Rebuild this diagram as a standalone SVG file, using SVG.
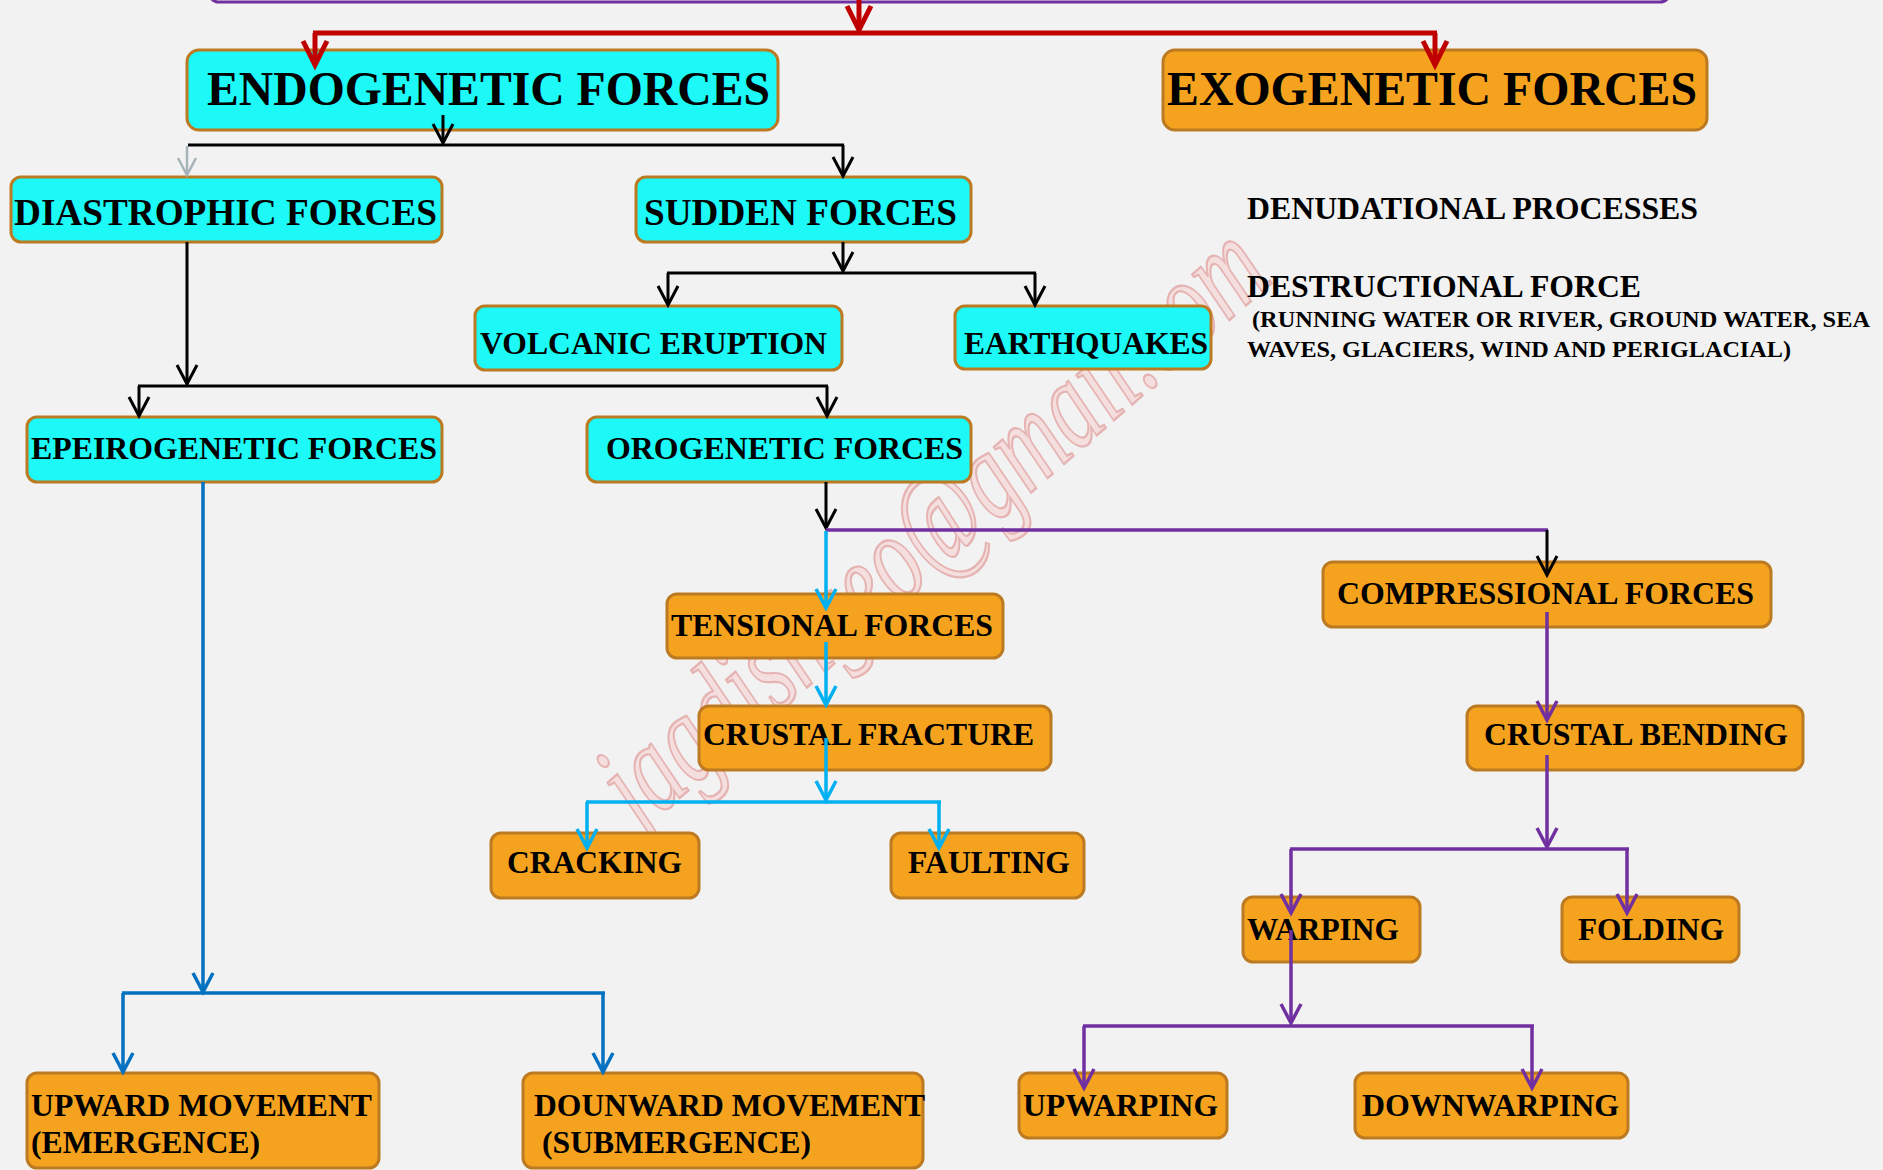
<svg xmlns="http://www.w3.org/2000/svg" width="1883" height="1170" viewBox="0 0 1883 1170">
<style>
.bg{fill:#F2F2F2}
.cy{fill:#1CF9F7;stroke:#BC7A22;stroke-width:3}
.or{fill:#F5A31F;stroke:#BC7A22;stroke-width:3}
.t{font-family:"Liberation Serif","Times New Roman",serif;font-weight:bold;fill:#000}
.wm{font-family:"Liberation Serif","DejaVu Serif",serif;font-style:italic;font-size:128px;fill:#F4DEDE;stroke:#E6B3B3;stroke-width:2.4}
.c{fill:none;stroke-linecap:butt;stroke-linejoin:miter}
.red{stroke:#C00000;stroke-width:5}
.blk{stroke:#000;stroke-width:3}
.gry{stroke:#A6B4BA;stroke-width:2.5}
.cya{stroke:#00B0F0;stroke-width:3.5}
.pur{stroke:#7030A0;stroke-width:3.5}
.blu{stroke:#0070C0;stroke-width:3.5}
</style>
<defs>
<marker id="mr" markerUnits="userSpaceOnUse" markerWidth="40" markerHeight="40" viewBox="-30 -20 40 40" refX="0" refY="0" orient="auto" overflow="visible"><path d="M-24,-12 L0,0 L-24,12" fill="none" stroke="#C00000" stroke-width="5"/></marker>
<marker id="mb" markerUnits="userSpaceOnUse" markerWidth="40" markerHeight="40" viewBox="-30 -20 40 40" refX="0" refY="0" orient="auto" overflow="visible"><path d="M-19,-10 L0,0 L-19,10" fill="none" stroke="#000" stroke-width="3"/></marker>
<marker id="mg" markerUnits="userSpaceOnUse" markerWidth="40" markerHeight="40" viewBox="-30 -20 40 40" refX="0" refY="0" orient="auto" overflow="visible"><path d="M-17,-9 L0,0 L-17,9" fill="none" stroke="#A6B4BA" stroke-width="2.5"/></marker>
<marker id="mc" markerUnits="userSpaceOnUse" markerWidth="40" markerHeight="40" viewBox="-30 -20 40 40" refX="0" refY="0" orient="auto" overflow="visible"><path d="M-19,-10 L0,0 L-19,10" fill="none" stroke="#00B0F0" stroke-width="3.5"/></marker>
<marker id="mp" markerUnits="userSpaceOnUse" markerWidth="40" markerHeight="40" viewBox="-30 -20 40 40" refX="0" refY="0" orient="auto" overflow="visible"><path d="M-19,-10 L0,0 L-19,10" fill="none" stroke="#7030A0" stroke-width="3.5"/></marker>
<marker id="mu" markerUnits="userSpaceOnUse" markerWidth="40" markerHeight="40" viewBox="-30 -20 40 40" refX="0" refY="0" orient="auto" overflow="visible"><path d="M-19,-10 L0,0 L-19,10" fill="none" stroke="#0070C0" stroke-width="3.5"/></marker>
</defs>
<rect class="bg" x="0" y="0" width="1883" height="1170"/>

<text class="wm" x="0" y="0" text-anchor="middle" transform="translate(958,556) rotate(-41)" textLength="840" lengthAdjust="spacingAndGlyphs">jagdishgeo@gmail.com</text>

<g id="top-box"><rect x="209" y="-60" width="1461" height="62" rx="10" fill="#F2F2F2" stroke="#7030A0" stroke-width="3"/></g>

<g id="endogenetic"><rect class="cy" x="187" y="50" width="591" height="80" rx="12"/><text class="t" x="207" y="105" font-size="48" textLength="563" lengthAdjust="spacingAndGlyphs">ENDOGENETIC FORCES</text></g>
<g id="exogenetic"><rect class="or" x="1163" y="50" width="544" height="80" rx="12"/><text class="t" x="1167" y="105" font-size="48" textLength="530" lengthAdjust="spacingAndGlyphs">EXOGENETIC FORCES</text></g>
<g id="diastrophic"><rect class="cy" x="11" y="177" width="431" height="65" rx="10"/><text class="t" x="14" y="225" font-size="38" textLength="423" lengthAdjust="spacingAndGlyphs">DIASTROPHIC FORCES</text></g>
<g id="sudden"><rect class="cy" x="636" y="177" width="335" height="65" rx="10"/><text class="t" x="644" y="225" font-size="38" textLength="313" lengthAdjust="spacingAndGlyphs">SUDDEN FORCES</text></g>
<g id="volcanic"><rect class="cy" x="475" y="306" width="367" height="64" rx="10"/><text class="t" x="480" y="354" font-size="32" textLength="347" lengthAdjust="spacingAndGlyphs">VOLCANIC ERUPTION</text></g>
<g id="earthquakes"><rect class="cy" x="955" y="306" width="256" height="63" rx="10"/><text class="t" x="964" y="354" font-size="32" textLength="244" lengthAdjust="spacingAndGlyphs">EARTHQUAKES</text></g>
<g id="epeirogenetic"><rect class="cy" x="27" y="417" width="415" height="65" rx="10"/><text class="t" x="31" y="459" font-size="32" textLength="406" lengthAdjust="spacingAndGlyphs">EPEIROGENETIC FORCES</text></g>
<g id="orogenetic"><rect class="cy" x="587" y="417" width="384" height="65" rx="10"/><text class="t" x="606" y="459" font-size="32" textLength="357" lengthAdjust="spacingAndGlyphs">OROGENETIC FORCES</text></g>
<g id="compressional"><rect class="or" x="1323" y="562" width="448" height="65" rx="10"/><text class="t" x="1337" y="604" font-size="32" textLength="417" lengthAdjust="spacingAndGlyphs">COMPRESSIONAL FORCES</text></g>
<g id="tensional"><rect class="or" x="667" y="594" width="336" height="64" rx="10"/><text class="t" x="671" y="636" font-size="32" textLength="322" lengthAdjust="spacingAndGlyphs">TENSIONAL FORCES</text></g>
<g id="crustal-fracture"><rect class="or" x="699" y="706" width="352" height="64" rx="10"/><text class="t" x="703" y="745" font-size="32" textLength="331" lengthAdjust="spacingAndGlyphs">CRUSTAL FRACTURE</text></g>
<g id="crustal-bending"><rect class="or" x="1467" y="706" width="336" height="64" rx="10"/><text class="t" x="1484" y="745" font-size="32" textLength="304" lengthAdjust="spacingAndGlyphs">CRUSTAL BENDING</text></g>
<g id="cracking"><rect class="or" x="491" y="833" width="208" height="65" rx="10"/><text class="t" x="507" y="873" font-size="32" textLength="175" lengthAdjust="spacingAndGlyphs">CRACKING</text></g>
<g id="faulting"><rect class="or" x="891" y="833" width="193" height="65" rx="10"/><text class="t" x="908" y="873" font-size="32" textLength="162" lengthAdjust="spacingAndGlyphs">FAULTING</text></g>
<g id="warping"><rect class="or" x="1243" y="897" width="177" height="65" rx="10"/><text class="t" x="1247" y="940" font-size="32" textLength="152" lengthAdjust="spacingAndGlyphs">WARPING</text></g>
<g id="folding"><rect class="or" x="1562" y="897" width="177" height="65" rx="10"/><text class="t" x="1578" y="940" font-size="32" textLength="146" lengthAdjust="spacingAndGlyphs">FOLDING</text></g>
<g id="upwarping"><rect class="or" x="1019" y="1073" width="208" height="65" rx="10"/><text class="t" x="1023" y="1116" font-size="32" textLength="195" lengthAdjust="spacingAndGlyphs">UPWARPING</text></g>
<g id="downwarping"><rect class="or" x="1355" y="1073" width="273" height="65" rx="10"/><text class="t" x="1362" y="1116" font-size="32" textLength="257" lengthAdjust="spacingAndGlyphs">DOWNWARPING</text></g>
<g id="upward"><rect class="or" x="27" y="1073" width="352" height="95" rx="10"/><text class="t" x="31" y="1116" font-size="32" textLength="341" lengthAdjust="spacingAndGlyphs">UPWARD MOVEMENT</text><text class="t" x="31" y="1153" font-size="32" textLength="229" lengthAdjust="spacingAndGlyphs">(EMERGENCE)</text></g>
<g id="downward"><rect class="or" x="523" y="1073" width="400" height="95" rx="10"/><text class="t" x="534" y="1116" font-size="32" textLength="391" lengthAdjust="spacingAndGlyphs">DOUNWARD MOVEMENT</text><text class="t" x="542" y="1153" font-size="32" textLength="269" lengthAdjust="spacingAndGlyphs">(SUBMERGENCE)</text></g>

<g id="exo-notes">
<text class="t" x="1247" y="219" font-size="31" textLength="451" lengthAdjust="spacingAndGlyphs">DENUDATIONAL PROCESSES</text>
<text class="t" x="1247" y="297" font-size="31" textLength="394" lengthAdjust="spacingAndGlyphs">DESTRUCTIONAL FORCE</text>
<text class="t" x="1252" y="327" font-size="23" textLength="618" lengthAdjust="spacingAndGlyphs">(RUNNING WATER OR RIVER, GROUND WATER, SEA</text>
<text class="t" x="1247" y="357" font-size="23" textLength="544" lengthAdjust="spacingAndGlyphs">WAVES, GLACIERS, WIND AND PERIGLACIAL)</text>
</g>

<g id="connectors">
<path class="c red" d="M859,0 V30" marker-end="url(#mr)"/>
<path class="c red" d="M313,33 H1437"/>
<path class="c red" d="M315,33 V65" marker-end="url(#mr)"/>
<path class="c red" d="M1435,33 V65" marker-end="url(#mr)"/>

<path class="c blk" d="M443,115 V143" marker-end="url(#mb)"/>
<path class="c blk" d="M188,145 H844"/>
<path class="c gry" d="M187,146 V175" marker-end="url(#mg)"/>
<path class="c blk" d="M843,145 V176" marker-end="url(#mb)"/>
<path class="c blk" d="M187,242 V384" marker-end="url(#mb)"/>
<path class="c blk" d="M138,386 H828"/>
<path class="c blk" d="M139,386 V416" marker-end="url(#mb)"/>
<path class="c blk" d="M827,386 V416" marker-end="url(#mb)"/>
<path class="c blk" d="M843,242 V271" marker-end="url(#mb)"/>
<path class="c blk" d="M667,273 H1036"/>
<path class="c blk" d="M668,273 V305" marker-end="url(#mb)"/>
<path class="c blk" d="M1035,273 V305" marker-end="url(#mb)"/>
<path class="c blk" d="M826,482 V528" marker-end="url(#mb)"/>

<path class="c pur" d="M826,530 H1548"/>
<path class="c blk" d="M1547,530 V575" marker-end="url(#mb)"/>

<path class="c cya" d="M826,531 V608" marker-end="url(#mc)"/>
<path class="c cya" d="M826,642 V705" marker-end="url(#mc)"/>
<path class="c cya" d="M826,738 V800" marker-end="url(#mc)"/>
<path class="c cya" d="M586,802 H941"/>
<path class="c cya" d="M587,802 V848" marker-end="url(#mc)"/>
<path class="c cya" d="M939,802 V848" marker-end="url(#mc)"/>

<path class="c pur" d="M1547,612 V720" marker-end="url(#mp)"/>
<path class="c pur" d="M1547,755 V847" marker-end="url(#mp)"/>
<path class="c pur" d="M1290,849 H1629"/>
<path class="c pur" d="M1291,849 V913" marker-end="url(#mp)"/>
<path class="c pur" d="M1627,849 V913" marker-end="url(#mp)"/>
<path class="c pur" d="M1291,930 V1023" marker-end="url(#mp)"/>
<path class="c pur" d="M1083,1026 H1534"/>
<path class="c pur" d="M1084,1026 V1088" marker-end="url(#mp)"/>
<path class="c pur" d="M1532,1026 V1088" marker-end="url(#mp)"/>

<path class="c blu" d="M203,482 V992" marker-end="url(#mu)"/>
<path class="c blu" d="M122,993 H605"/>
<path class="c blu" d="M123,993 V1072" marker-end="url(#mu)"/>
<path class="c blu" d="M603,993 V1072" marker-end="url(#mu)"/>
</g>
</svg>
